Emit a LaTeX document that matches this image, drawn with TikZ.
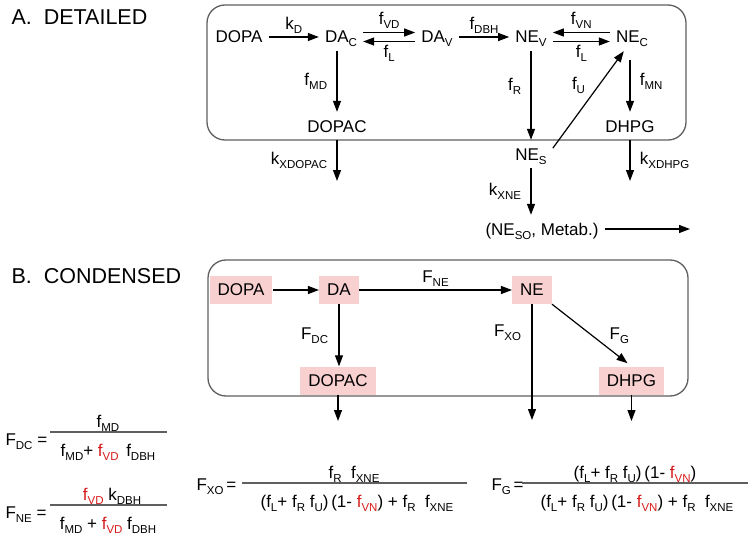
\documentclass[tikz,border=0pt]{standalone}
\usepackage{fontspec}
\setmainfont{Liberation Sans}
\usetikzlibrary{arrows.meta}

\definecolor{boxpink}{RGB}{248,208,208}
\definecolor{framegray}{RGB}{95,95,95}
\definecolor{hlred}{RGB}{215,25,25}
\newcommand{\lo}[1]{\raisebox{-4pt}{\fontsize{11.5}{12}\selectfont #1}}
\newcommand{\rd}[1]{\textcolor{hlred}{#1}}

\begin{document}
\begin{tikzpicture}[x=1pt, y=-1pt,
        font=\fontsize{17}{20}\selectfont,
        % styles
        pool/.style = {
                anchor=base, inner xsep=6pt, inner ysep=3pt,
                text height=17pt, text depth=5pt
            },
        species/.style = {
                fill=boxpink, inner xsep=8pt, minimum height=28pt
            },
        frame/.style = {
                draw=framegray, line width=1.3pt, rounded corners=18pt
            },
        title/.style = {
                anchor=base west, font=\fontsize{21.5}{24}\selectfont
            },
        eq/.style = {
                anchor=base
            },
        bar/.style = {
                draw=framegray, line width=1.1pt
            },
        arrow/.style = {
                line width=1.2pt, -{Triangle[length=11pt,width=8pt]}
            }]

    \useasboundingbox (0,0) rectangle (750,535);

    % A. detailed
    \node (titleA) [title] at (8,25) {A.\ \ DETAILED};
    \draw [frame] (207,5) rectangle (686,140);

    \node (dopa) [pool] at (239,43) {DOPA};
    \node (dac) [pool] at (341,43) {DA\lo{C}};
    \node (dav) [pool] at (437,43) {DA\lo{V}};
    \node (nev) [pool] at (531,43) {NE\lo{V}};
    \node (nec) [pool] at (632,43) {NE\lo{C}};
    \node (dopac) [pool] at (337,132) {DOPAC};
    \node (dhpg) [pool] at (630,132) {DHPG};
    \node (nes) [pool] at (531,160) {NE\lo{S}};
    \node (metab) [pool] at (542,235) {(NE\lo{SO}, Metab.)};
    \coordinate (xdopac) at (337,181);
    \coordinate (xdhpg) at (630,181);
    \coordinate (metabout) at (690,229);

    \draw [arrow] (dopa) -- node[above] {k\lo{D}} (dac);
    \draw [arrow] ([yshift=4.5pt]dac.east) -- node[above] {f\lo{VD}} ([yshift=4.5pt]dav.west);
    \draw [arrow] ([yshift=-4.5pt]dav.west) -- node[below] {f\lo{L}} ([yshift=-4.5pt]dac.east);
    \draw [arrow] (dav) -- node[above] {f\lo{DBH}} (nev);
    \draw [arrow] ([yshift=4.5pt]nec.west) -- node[above] {f\lo{VN}} ([yshift=4.5pt]nev.east);
    \draw [arrow] ([yshift=-4.5pt]nev.east) -- node[below] {f\lo{L}} ([yshift=-4.5pt]nec.west);
    \draw [arrow] (dac.south -| dopac) -- node[left=6pt] {f\lo{MD}} (dopac);
    \draw [arrow] (nev) -- node[pos=0.4, left=6pt] {f\lo{R}} (nes);
    \draw [arrow] (nes.15) -- node[pos=0.65, left=10pt] {f\lo{U}} (nec.240);
    \draw [arrow, shorten <=9pt] (nec.south -| dhpg) -- node[right=6pt] {f\lo{MN}} (dhpg);
    \draw [arrow] (dopac) -- node[left=6pt] {k\lo{XDOPAC}} (xdopac);
    \draw [arrow] (dhpg) -- node[right=6pt] {k\lo{XDHPG}} (xdhpg);
    \draw [arrow] (nes) -- node[left=6pt] {k\lo{XNE}} (nes |- metab.north);
    \draw [arrow] (metab) -- (metabout);

    % B. condensed
    \node (titleB) [title] at (8,283) {B.\ \ CONDENSED};
    \draw [frame] (208,260) rectangle (688,396);

    \node (dopaB) [species] at (241,290) {DOPA};
    \node (daB) [species] at (339,290) {DA};
    \node (neB) [species] at (532,290) {NE};
    \node (dopacB) [species] at (338,380.5) {DOPAC};
    \node (dhpgB) [species] at (631.5,380.5) {DHPG};
    \coordinate (xoout) at (532,420);
    \coordinate (dcout) at (338,421);
    \coordinate (gout) at (631.5,421);

    \draw [arrow] (dopaB) -- (daB);
    \draw [arrow] (daB) -- node[above] {F\lo{NE}} (neB);
    \draw [arrow] (daB.south) -- node[left=7pt] {F\lo{DC}} (daB |- dopacB.north);
    \draw [arrow] (neB) -- node[pos=0.25, left=7pt] {F\lo{XO}} (xoout);
    \draw [arrow, shorten >=5pt] (neB.south east) -- node[right=14pt] {F\lo{G}} (dhpgB.north);
    \draw [arrow] (dopacB) -- (dcout);
    \draw [arrow] (dhpgB) -- (gout);

    % ratios
    \node (fdc) [anchor=base west] at (2,445) {F\lo{DC} =};
    \node (fdcnum) [eq] at (108,427) {f\lo{MD}};
    \node (fdcden) [eq] at (108,456) {f\lo{MD}+ \rd{f\lo{VD}}\, f\lo{DBH}};
    \draw [bar] (50,432) -- (167,432);

    \node (fne) [anchor=base west] at (2,518) {F\lo{NE} =};
    \node (fnenum) [eq] at (112,500) {\rd{f\lo{VD}} k\lo{DBH}};
    \node (fneden) [eq] at (108,529) {f\lo{MD} + \rd{f\lo{VD}} f\lo{DBH}};
    \draw [bar] (50,505) -- (167,505);

    \node (fxo) [anchor=base west] at (193,490) {F\lo{XO}\,=};
    \node (fxonum) [eq] at (354,478) {f\lo{R}\ \ f\lo{XNE}};
    \node (fxoden) [eq] at (357,507) {(f\lo{L}+ f\lo{R} f\lo{U})\,(1- \rd{f\lo{VN}}) + f\lo{R}\ \ f\lo{XNE}};
    \draw [bar] (242,483) -- (467,483);

    \node (fg) [anchor=base west] at (488,490) {F\lo{G}\,=};
    \node (fgnum) [eq] at (635,478) {(f\lo{L}+ f\lo{R} f\lo{U})\,(1- \rd{f\lo{VN}})};
    \node (fgden) [eq] at (637,507) {(f\lo{L}+ f\lo{R} f\lo{U})\,(1- \rd{f\lo{VN}}) + f\lo{R}\ \ f\lo{XNE}};
    \draw [bar] (522,483) -- (748,483);

\end{tikzpicture}
\end{document}
